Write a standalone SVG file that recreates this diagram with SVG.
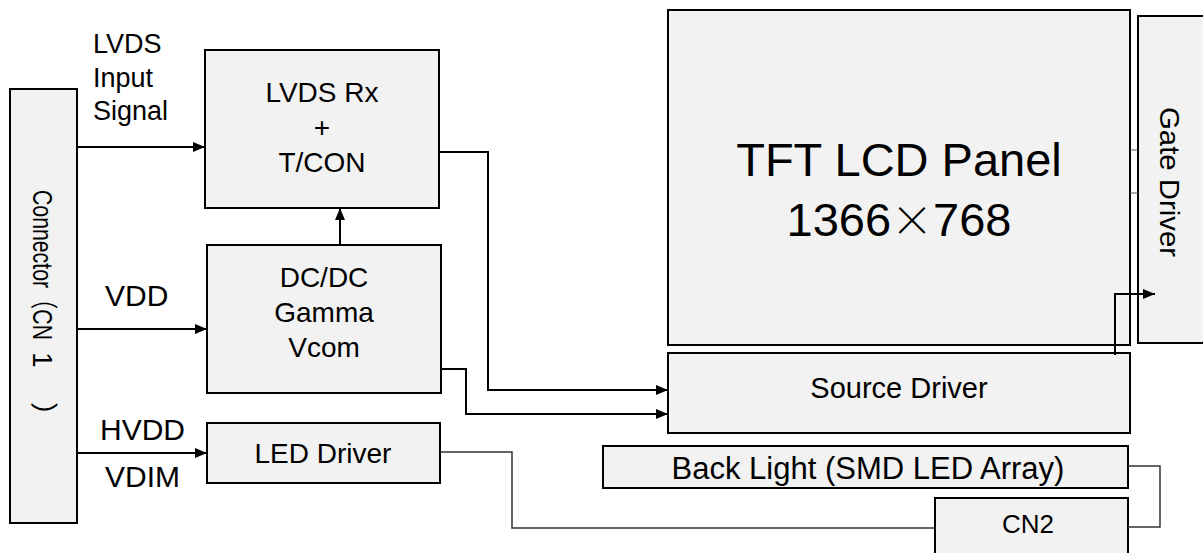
<svg xmlns="http://www.w3.org/2000/svg" width="1203" height="553" viewBox="0 0 1203 553">
<style>
  .box { fill: #f2f2f2; stroke: #000; stroke-width: 2; }
  .t { font-family: "Liberation Sans", Arial, "Noto Sans CJK SC", sans-serif; fill: #000; }
  .cjk { font-family: "Noto Sans CJK SC", "Noto Sans CJK JP", sans-serif; font-weight: 300; }
  .c { text-anchor: middle; }
  .w { fill: none; stroke: #000; stroke-width: 2; }
  .g { fill: none; stroke: #333; stroke-width: 1.5; }
  .thin { fill: none; stroke: #555; stroke-width: 1; }
</style>
<defs>
  <marker id="arr" viewBox="0 0 12 10" refX="12" refY="5" markerWidth="12" markerHeight="10" markerUnits="userSpaceOnUse" orient="auto">
    <path d="M0,0 L12,5 L0,10 z" fill="#000"/>
  </marker>
</defs>
<rect width="1203" height="553" fill="#fff"/>

<g id="connector-cn1">
  <rect class="box" x="10" y="89" width="67" height="434"/>
  <text class="t" font-size="28" transform="translate(33,190) rotate(90)"><tspan x="0" y="0" textLength="150" lengthAdjust="spacingAndGlyphs">Connector（CN</tspan><tspan x="162" y="0">1</tspan><tspan x="212" y="0">）</tspan></text>
</g>

<g id="lvds-label">
  <text class="t" font-size="27" x="93" y="53">LVDS</text>
  <text class="t" font-size="27" x="93" y="87">Input</text>
  <text class="t" font-size="27" x="93" y="120">Signal</text>
</g>
<g id="vdd-label"><text class="t" font-size="30" x="105" y="306">VDD</text></g>
<g id="hvdd-label">
  <text class="t" font-size="30" x="100" y="440">HVDD</text>
  <text class="t" font-size="30" x="105" y="487">VDIM</text>
</g>

<g id="lvds-rx">
  <rect class="box" x="205" y="50" width="234" height="158"/>
  <text class="t c" font-size="28" x="322" y="102">LVDS Rx</text>
  <text class="t c" font-size="28" x="322" y="137">+</text>
  <text class="t c" font-size="28" x="322" y="172">T/CON</text>
</g>

<g id="dcdc">
  <rect class="box" x="207" y="245" width="234" height="148"/>
  <text class="t c" font-size="28" x="324" y="287">DC/DC</text>
  <text class="t c" font-size="28" x="324" y="322">Gamma</text>
  <text class="t c" font-size="28" x="324" y="357">Vcom</text>
</g>

<g id="led-driver">
  <rect class="box" x="207" y="423" width="233" height="60"/>
  <text class="t c" font-size="28" x="323" y="463">LED Driver</text>
</g>

<g id="tft-panel">
  <rect class="box" x="668" y="10" width="462" height="335"/>
  <text class="t c" font-size="47" x="899" y="176">TFT LCD Panel</text>
  <text class="t c" font-size="47" x="899" y="236">1366<tspan class="cjk" font-size="42">×</tspan>768</text>
</g>

<g id="gate-driver">
  <rect class="box" x="1138" y="16" width="72" height="327"/>
  <text class="t" font-size="28" transform="translate(1160,107) rotate(90)" textLength="150" lengthAdjust="spacingAndGlyphs">Gate Driver</text>
</g>

<g id="source-driver">
  <rect class="box" x="668" y="353" width="462" height="80"/>
  <text class="t c" font-size="29" x="899" y="398">Source Driver</text>
</g>

<g id="back-light">
  <rect class="box" x="603" y="446" width="525" height="42"/>
  <text class="t c" font-size="31" x="868" y="479">Back Light (SMD LED Array)</text>
</g>

<g id="cn2">
  <rect class="box" x="935" y="498" width="193" height="65"/>
  <text class="t c" font-size="26" x="1028" y="533">CN2</text>
</g>

<g id="connectors">
  <line class="w" x1="77" y1="147" x2="205" y2="147" marker-end="url(#arr)"/>
  <line class="w" x1="77" y1="329" x2="207" y2="329" marker-end="url(#arr)"/>
  <line class="w" x1="77" y1="453" x2="207" y2="453" marker-end="url(#arr)"/>
  <line class="w" x1="340" y1="245" x2="340" y2="208" marker-end="url(#arr)"/>
  <polyline class="w" points="439,152 488,152 488,390 668,390" marker-end="url(#arr)"/>
  <polyline class="w" points="441,369 466,369 466,414 668,414" marker-end="url(#arr)"/>
  <polyline class="w" points="1115,355 1115,294 1155,294" marker-end="url(#arr)"/>
  <polyline class="g" points="440,452 512,452 512,528 935,528"/>
  <polyline class="g" points="1128,466 1160,466 1160,527 1128,527"/>
  <line class="thin" x1="1130" y1="150" x2="1138" y2="150"/>
  <line class="thin" x1="1130" y1="193" x2="1138" y2="193"/>
</g>
</svg>
